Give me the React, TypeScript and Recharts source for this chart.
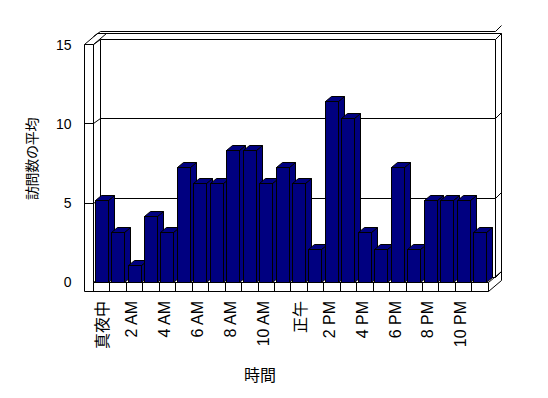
import React from 'react';
import { BarChart, Bar, XAxis, YAxis, CartesianGrid, ReferenceArea } from 'recharts';

const categories = [
  '真夜中', '1 AM', '2 AM', '3 AM', '4 AM', '5 AM', '6 AM', '7 AM', '8 AM', '9 AM', '10 AM', '11 AM',
  '正午', '1 PM', '2 PM', '3 PM', '4 PM', '5 PM', '6 PM', '7 PM', '8 PM', '9 PM', '10 PM', '11 PM',
];
const visits = [5, 3, 1, 4, 3, 7, 6, 6, 8, 8, 6, 7, 6, 2, 11, 10, 3, 2, 7, 2, 5, 5, 5, 3];
const yTicks = [0, 5, 10, 15];
const yTitle = '訪問数の平均';
const xTitle = '時間';

const data = categories.map((hour, i) => ({ hour, visits: visits[i] }));

// perspective: the wall/axis scale is a bit flatter than the bars' scale
const AXIS_MAX = 15 * 16.4 / 15.8;
const DEPTH = { dx: 7, dy: -5 };
const THICK = { dx: 6, dy: -6 };
const WALL = 9;
const BAR_D = { dx: 6, dy: -5 };
const NAVY = '#000080';
const FONT = '"Liberation Sans", "Noto Sans CJK JP", sans-serif';

const s = (v: number) => Math.round(v - 0.5) + 0.5;

const Bar3D = (p: any) => {
  if (!p.height || p.height <= 0) return null;
  const x = s(p.x);
  const w = Math.round(p.width);
  const y = s(p.y);
  const yb = s(p.y + p.height);
  const r = x + w;
  const side = `${r},${y} ${r + BAR_D.dx},${y + BAR_D.dy} ${r + BAR_D.dx},${yb + BAR_D.dy} ${r},${yb}`;
  const top = `${x},${y} ${x + BAR_D.dx},${y + BAR_D.dy} ${r + BAR_D.dx},${y + BAR_D.dy} ${r},${y}`;
  return (
    <g stroke="#000" strokeWidth={1} fill={NAVY}>
      <polygon points={side} />
      <polygon points={top} />
      <rect x={x} y={y} width={w} height={yb - y} />
    </g>
  );
};

const GridLine = (p: any) => {
  const y = s(p.y1);
  const x0 = s(p.x1);
  const x1 = s(p.x2);
  const by = y + DEPTH.dy;
  const d = `M${x0},${y} L${x0 + DEPTH.dx},${by} H${x1 + DEPTH.dx} L${x1 + DEPTH.dx + THICK.dx},${by + THICK.dy}`;
  return <path d={d} stroke="#000" strokeWidth={1} fill="none" />;
};

const Frame = (p: any) => {
  const x0 = s(p.x);
  const x1 = s(p.x + p.width);
  const yt = s(p.y);
  const yb = s(p.y + p.height);
  const lw = x0 - WALL;
  const fb = yb + WALL;
  const bx0 = x0 + DEPTH.dx;
  const bx1 = x1 + DEPTH.dx;
  const byt = yt + DEPTH.dy;
  const byb = yb + DEPTH.dy;
  const ox1 = bx1 + THICK.dx;
  const oyt = byt + THICK.dy;
  const oyb = byb + THICK.dy;
  const tx = DEPTH.dx + THICK.dx;
  const band = p.width / categories.length;
  const maxTick = yTicks[yTicks.length - 1];
  const dividers = categories.map((_, i) => s(p.x + band * i)).concat([x1]);
  const wallTicks = yTicks
    .filter((v) => v > 0 && v < maxTick)
    .map((v) => s(p.y + p.height - (p.height * v) / maxTick));
  return (
    <g fill="none" stroke="#000" strokeWidth={1}>
      <path d={`M${lw},${yt} V${fb} H${x1} L${ox1},${oyb + WALL}`} />
      <path d={`M${x0},${yt} V${yb} H${x1} L${ox1},${oyb}`} />
      <path d={`M${lw},${yt} H${x0} L${x0 + tx},${oyt} H${lw + tx} Z`} />
      <path d={`M${bx0},${byt} V${byb}`} />
      <path d={`M${lw + tx},${oyt} H${ox1} V${oyb + WALL}`} />
      <path d={`M${bx1},${byt} V${byb}`} />
      {wallTicks.map((yy, i) => (
        <path key={`wt${i}`} d={`M${lw},${yy} H${x0}`} />
      ))}
      {dividers.map((xx, i) => (
        <path key={`dv${i}`} d={`M${xx},${yb} V${fb}`} />
      ))}
    </g>
  );
};

const XTick = (p: any) => {
  const { x, y, payload } = p;
  const latin = /[AP]M/.test(String(payload.value));
  return (
    <text
      x={x}
      y={y}
      transform={`rotate(-90, ${x}, ${y})`}
      textAnchor="end"
      dy={latin ? '0.17em' : '0.42em'}
      fontSize={16}
      fontFamily={FONT}
      fill="#000"
    >
      {payload.value}
    </text>
  );
};

const YTick = (p: any) => {
  const { x, y, payload } = p;
  return (
    <text x={x} y={y} textAnchor="end" dy="0.36em" fontSize={14} fontFamily={FONT} fill="#000">
      {payload.value}
    </text>
  );
};

const YTitle = (p: any) => {
  const vb = p.viewBox || { x: 0, y: 36, width: 93.5, height: 246 };
  const cx = vb.x + 32;
  const cy = vb.y + vb.height / 2;
  return (
    <text
      x={cx}
      y={cy}
      transform={`rotate(-90, ${cx}, ${cy})`}
      textAnchor="middle"
      dominantBaseline="central"
      fontSize={14}
      letterSpacing={-0.3}
      fontFamily={FONT}
      fill="#000"
    >
      {yTitle}
    </text>
  );
};

const XTitle = (p: any) => {
  const vb = p.viewBox || { x: 93.5, y: 282, width: 394.8, height: 116 };
  const cx = vb.x + vb.width / 2 - 31;
  const cy = vb.y + 93;
  return (
    <text x={cx} y={cy} textAnchor="middle" dominantBaseline="central" fontSize={16} fontFamily={FONT} fill="#000">
      {xTitle}
    </text>
  );
};

export default function App() {
  return (
    <div style={{ position: 'absolute', left: 0, top: 0, background: '#fff' }}>
      <BarChart
        width={548}
        height={398}
        data={data}
        margin={{ top: 36, right: 59.7, bottom: 0, left: 0 }}
        barCategoryGap="10%"
      >
        <CartesianGrid yAxisId="a" vertical={false} horizontal={GridLine} />
        <ReferenceArea yAxisId="a" y1={0} y2={15} shape={Frame} isFront={false} />
        <XAxis
          dataKey="hour"
          interval={1}
          height={116}
          axisLine={false}
          tickLine={false}
          tickSize={0}
          tickMargin={19}
          tick={XTick}
          label={XTitle}
        />
        <YAxis
          yAxisId="a"
          domain={[0, AXIS_MAX]}
          ticks={yTicks}
          width={93.5}
          axisLine={false}
          tickLine={false}
          tickSize={0}
          tickMargin={22}
          tick={YTick}
          label={YTitle}
          allowDataOverflow
        />
        <YAxis yAxisId="v" domain={[0, 15]} hide />
        <Bar dataKey="visits" yAxisId="v" shape={Bar3D} isAnimationActive={false} />
      </BarChart>
    </div>
  );
}
